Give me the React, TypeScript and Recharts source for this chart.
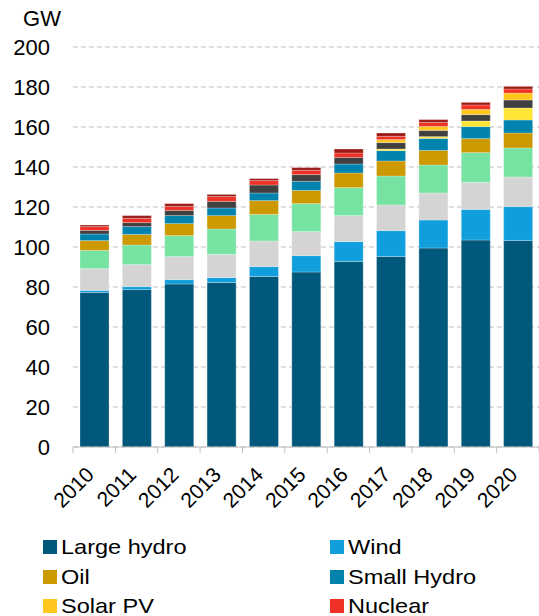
import React from 'react';
import { BarChart, Bar, XAxis, YAxis, CartesianGrid } from 'recharts';

const years = ['2010', '2011', '2012', '2013', '2014', '2015', '2016', '2017', '2018', '2019', '2020'];
const largeHydro = [77.3, 78.7, 81.5, 82.3, 85.3, 87.5, 92.8, 95.3, 99.5, 103.5, 103.3];
const wind = [1.0, 1.5, 2.2, 2.4, 4.9, 8.2, 9.9, 12.9, 14.0, 15.3, 16.9];
const gas = [10.9, 11.0, 11.5, 11.6, 12.8, 12.0, 13.0, 12.8, 13.5, 13.5, 14.8];
const coal = [9.1, 9.8, 10.5, 12.7, 13.3, 14.0, 14.0, 14.5, 14.0, 14.9, 14.5];
const oil = [4.9, 5.3, 6.0, 6.7, 6.9, 6.6, 7.3, 7.5, 7.3, 7.0, 7.5];
const smallHydro = [3.3, 3.9, 4.0, 3.8, 3.8, 4.5, 4.5, 5.2, 6.0, 6.0, 6.5];
const solarThermal = [0, 0, 0, 0, 0, 0, 0, 0.8, 0.9, 2.8, 6.0];
const geothermal = [1.8, 2.0, 2.6, 3.3, 4.0, 3.4, 3.3, 3.2, 3.1, 3.2, 4.0];
const solarPV = [0, 0, 0, 0, 0, 0, 0, 1.5, 2.0, 2.6, 3.5];
const nuclear = [1.9, 2.1, 2.0, 2.4, 2.2, 2.1, 2.2, 1.6, 2.0, 2.2, 2.0];
const bioenergy = [0.8, 1.4, 1.4, 1.1, 1.0, 1.4, 2.0, 1.7, 1.4, 1.3, 1.3];
const yTicks = [0, 20, 40, 60, 80, 100, 120, 140, 160, 180, 200];

const series = [
  { key: 'largeHydro', name: 'Large hydro', values: largeHydro, color: '#02587a' },
  { key: 'wind', name: 'Wind', values: wind, color: '#109fdc' },
  { key: 'gas', name: 'Gas', values: gas, color: '#d4d4d4' },
  { key: 'coal', name: 'Coal', values: coal, color: '#76e3a2' },
  { key: 'oil', name: 'Oil', values: oil, color: '#cc9900' },
  { key: 'smallHydro', name: 'Small Hydro', values: smallHydro, color: '#0083ad' },
  { key: 'solarThermal', name: 'Solar thermal', values: solarThermal, color: '#ffe535' },
  { key: 'geothermal', name: 'Geothermal', values: geothermal, color: '#404040' },
  { key: 'solarPV', name: 'Solar PV', values: solarPV, color: '#ffc61e' },
  { key: 'nuclear', name: 'Nuclear', values: nuclear, color: '#ee3124' },
  { key: 'bioenergy', name: 'Bioenergy', values: bioenergy, color: '#9b1b16' },
];

const legendOrder = ['largeHydro', 'wind', 'oil', 'smallHydro', 'solarPV', 'nuclear'];

const data = years.map((y, i) => {
  const row: any = { year: y };
  series.forEach((s) => (row[s.key] = s.values[i]));
  return row;
});

const FONT = '"Liberation Sans", Arial, sans-serif';
const AXIS_GREY = '#bfbfbf';

const XTick = (props: any) => {
  const { x, y, payload, index } = props;
  const band = 466 / years.length;
  const axisY = y - 8;
  const px = x + 1;
  const py = axisY + 29;
  return (
    <g>
      <line x1={x - band / 2} y1={axisY} x2={x - band / 2} y2={axisY + 6} stroke={AXIS_GREY} strokeWidth={1} />
      {index === years.length - 1 && (
        <line x1={x + band / 2} y1={axisY} x2={x + band / 2} y2={axisY + 6} stroke={AXIS_GREY} strokeWidth={1} />
      )}
      <text
        x={px}
        y={py}
        textAnchor="end"
        transform={`rotate(-45, ${px}, ${py})`}
        fontSize={21}
        fontFamily={FONT}
        fill="#000"
      >
        {payload.value}
      </text>
    </g>
  );
};

export default function App() {
  return (
    <div style={{ position: 'absolute', left: 0, top: 0, width: 539, height: 616, background: '#fff', fontFamily: FONT }}>
      <BarChart
        width={539}
        height={616}
        data={data}
        margin={{ top: 47, right: 0, left: 0, bottom: 0 }}
        barSize={29}
      >
        <CartesianGrid vertical={false} stroke={AXIS_GREY} strokeDasharray="5 3" />
        <XAxis
          dataKey="year"
          height={169}
          axisLine={{ stroke: AXIS_GREY }}
          tickLine={false}
          interval={0}
          tick={<XTick />}
        />
        <YAxis
          width={73}
          domain={[0, 200]}
          ticks={yTicks}
          axisLine={false}
          tickLine={false}
          tickSize={0}
          tickMargin={23}
          tick={{ fontSize: 22, fill: '#000', fontFamily: FONT }}
        />
        {series.map((s) => (
          <Bar
            key={s.key}
            dataKey={s.key}
            name={s.name}
            stackId="a"
            fill={s.color}
            stroke="#ffffff"
            strokeOpacity={0.25}
            strokeWidth={1}
            isAnimationActive={false}
          />
        ))}
      </BarChart>
      <div style={{ position: 'absolute', left: 12, top: 6, width: 60, textAlign: 'center', fontSize: 22, color: '#000' }}>GW</div>
      <div style={{ position: 'absolute', left: 43, top: 535, width: 496 }}>
        {legendOrder.map((k, i) => {
          const s = series.find((q) => q.key === k)!;
          const col = i % 2;
          const row = Math.floor(i / 2);
          return (
            <div
              key={k}
              style={{
                position: 'absolute',
                left: col === 0 ? 0 : 287,
                top: row * 29.5,
                display: 'flex',
                alignItems: 'center',
                whiteSpace: 'nowrap',
                fontSize: 21,
                lineHeight: '24px',
                color: '#000',
              }}
            >
              <span style={{ display: 'inline-block', width: 14, height: 14, background: s.color, marginRight: 4 }} />
              <span style={{ display: 'inline-block', transform: 'scaleX(1.12)', transformOrigin: 'left center' }}>{s.name}</span>
            </div>
          );
        })}
      </div>
    </div>
  );
}
